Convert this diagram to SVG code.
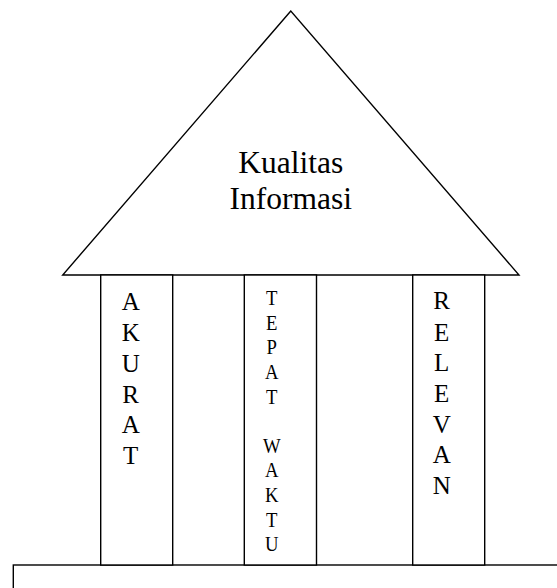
<svg xmlns="http://www.w3.org/2000/svg" width="557" height="588" viewBox="0 0 557 588">
<style>
.s{fill:#fff;stroke:#000;stroke-width:1.4}
.t{font-family:"Liberation Serif","Times New Roman",serif;fill:#000;text-anchor:middle}
</style>
<rect width="557" height="588" fill="#fff"/>
<g id="base">
<rect class="s" x="13.3" y="565" width="600" height="100"/>
</g>
<g id="roof">
<polygon class="s" points="290.8,11 62.7,275 519,275"/>
<text class="t" font-size="31.5" x="290.8" y="172.7">Kualitas</text>
<text class="t" font-size="31.5" x="290.8" y="209.3">Informasi</text>
</g>
<g id="akurat">
<rect class="s" x="100.7" y="275" width="72" height="290"/>
<g class="t" font-size="25">
<text x="130.7" y="310">A</text>
<text x="130.7" y="341">K</text>
<text x="130.7" y="371.7">U</text>
<text x="130.7" y="402.7">R</text>
<text x="130.7" y="433.3">A</text>
<text x="130.7" y="464">T</text>
</g>
</g>
<g id="tepat-waktu">
<rect class="s" x="244.3" y="275" width="72.2" height="290"/>
<g class="t" font-size="21.5" transform="translate(271.7,0) scale(0.87,1)">
<text x="0" y="305">T</text>
<text x="0" y="330">E</text>
<text x="0" y="354.3">P</text>
<text x="0" y="379.3">A</text>
<text x="0" y="404">T</text>
<text x="0" y="452.7">W</text>
<text x="0" y="476.7">A</text>
<text x="0" y="502.3">K</text>
<text x="0" y="526.7">T</text>
<text x="0" y="551">U</text>
</g>
</g>
<g id="relevan">
<rect class="s" x="412.7" y="275" width="72" height="290"/>
<g class="t" font-size="25">
<text x="441.7" y="309.3">R</text>
<text x="441.7" y="340.7">E</text>
<text x="441.7" y="371">L</text>
<text x="441.7" y="401.7">E</text>
<text x="441.7" y="432.7">V</text>
<text x="441.7" y="463.3">A</text>
<text x="441.7" y="494">N</text>
</g>
</g>
<g id="connectors"></g>
</svg>
